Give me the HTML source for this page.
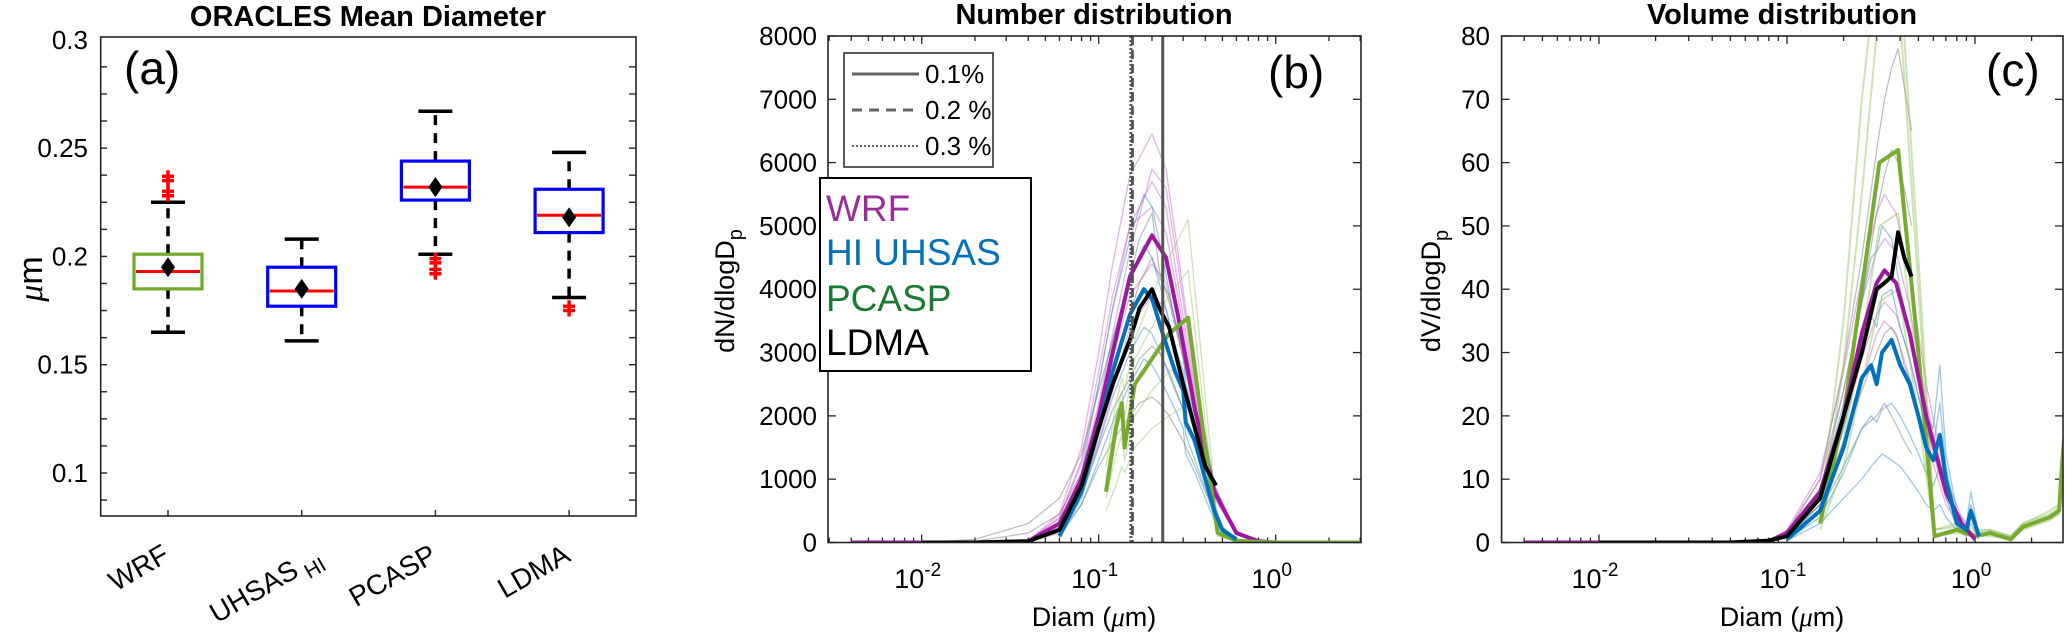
<!DOCTYPE html>
<html><head><meta charset="utf-8"><title>ORACLES size distributions</title>
<style>
html,body{margin:0;padding:0;background:#fff;}
svg{display:block;font-family:"Liberation Sans",Arial,sans-serif;}
</style></head>
<body>
<svg id="fig" width="2067" height="635" viewBox="0 0 2067 635" xmlns="http://www.w3.org/2000/svg">
<defs>
<clipPath id="clipB"><rect x="828" y="36" width="533" height="506.5"/></clipPath>
<clipPath id="clipC"><rect x="1501.6" y="36" width="561.4" height="506.5"/></clipPath>
</defs>
<g>
<text x="368" y="26" font-size="29" font-weight="bold" text-anchor="middle">ORACLES Mean Diameter</text>
<text x="42" y="279" font-size="34" text-anchor="middle" transform="rotate(-90 42 279)"><tspan font-family="Liberation Serif" font-style="italic">μ</tspan>m</text>
<text x="124" y="84" font-size="46">(a)</text>
<g id="aAxis"></g>
<g id="aMarks"></g>
<rect x="100.7" y="37" width="535.3" height="479" fill="none" stroke="#262626" stroke-width="1.6"/>
</g>
<g>
<text x="1094" y="24" font-size="29" font-weight="bold" text-anchor="middle">Number distribution</text>
<text x="734" y="291" font-size="27" text-anchor="middle" transform="rotate(-90 734 291)">dN/dlogD<tspan font-size="20" dy="8">p</tspan></text>
<text x="1094" y="626" font-size="27" text-anchor="middle">Diam (<tspan font-family="Liberation Serif" font-style="italic">μ</tspan>m)</text>
<text x="1268" y="88" font-size="46">(b)</text>
<g id="bAxis"></g>
<g id="bMarks" clip-path="url(#clipB)"></g>
<rect x="828" y="36" width="533" height="506.5" fill="none" stroke="#262626" stroke-width="1.6"/>
<g>
<rect x="844" y="53" width="149" height="114" fill="#fff" stroke="#262626" stroke-width="1.5"/>
<line x1="852" y1="74" x2="919" y2="74" stroke="#666" stroke-width="3"/>
<text x="925" y="83" font-size="26">0.1%</text>
<line x1="852" y1="110" x2="919" y2="110" stroke="#666" stroke-width="3" stroke-dasharray="10,7"/>
<text x="925" y="119" font-size="26">0.2 %</text>
<line x1="852" y1="146" x2="919" y2="146" stroke="#666" stroke-width="2" stroke-dasharray="2,2"/>
<text x="925" y="155" font-size="26">0.3 %</text>
</g>
<g>
<rect x="820" y="178" width="211" height="193" fill="#fff" stroke="#000" stroke-width="2"/>
<text x="826" y="221" font-size="37" fill="#9B2C9B">WRF</text>
<text x="826" y="265" font-size="37" fill="#0072BD">HI UHSAS</text>
<text x="826" y="311" font-size="37" fill="#1A7A30">PCASP</text>
<text x="826" y="355" font-size="37" fill="#000">LDMA</text>
</g>
</g>
<g>
<text x="1782" y="24" font-size="29" font-weight="bold" text-anchor="middle">Volume distribution</text>
<text x="1440" y="291" font-size="27" text-anchor="middle" transform="rotate(-90 1440 291)">dV/dlogD<tspan font-size="20" dy="8">p</tspan></text>
<text x="1782" y="626" font-size="27" text-anchor="middle">Diam (<tspan font-family="Liberation Serif" font-style="italic">μ</tspan>m)</text>
<text x="1986" y="86" font-size="46">(c)</text>
<g id="cAxis"></g>
<g id="cMarks" clip-path="url(#clipC)"></g>
<rect x="1501.6" y="36" width="561.4" height="506.5" fill="none" stroke="#262626" stroke-width="1.6"/>
</g>
</svg>
<script>
// ---------- Panel A data ----------
const aCats = ['WRF', 'UHSAS', 'PCASP', 'LDMA'];
const aLow = [0.165, 0.161, 0.201, 0.181];
const aQ1 = [0.185, 0.177, 0.226, 0.211];
const aMed = [0.193, 0.184, 0.232, 0.219];
const aQ3 = [0.201, 0.195, 0.244, 0.231];
const aHigh = [0.225, 0.208, 0.267, 0.248];
const aMean = [0.195, 0.185, 0.232, 0.218];
const aOutliers = [[0.228, 0.230, 0.235, 0.237], [], [0.192, 0.194, 0.197, 0.199], [0.175, 0.177]];
const aTicks = [0.1, 0.15, 0.2, 0.25, 0.3];
const aTickLabels = ['0.1', '0.15', '0.2', '0.25', '0.3'];

// ---------- Panel B data (number distribution) ----------
const dWRF = [0.004, 0.01, 0.02, 0.04, 0.06, 0.08, 0.1, 0.12, 0.15, 0.2, 0.24, 0.28, 0.35, 0.45, 0.6, 0.8, 1.0];
const nWRF = [0, 0, 0, 20, 300, 1000, 2000, 3000, 4200, 4850, 4500, 3600, 2100, 800, 150, 20, 0];
const nWRFa = [0, 0, 0, 30, 450, 1500, 3000, 4400, 5800, 6450, 5900, 4600, 2600, 900, 150, 20, 0];
const nWRFb = [0, 0, 0, 25, 380, 1250, 2500, 3700, 5000, 5700, 5300, 4100, 2400, 900, 150, 20, 0];
const nWRFc = [0, 0, 0, 15, 250, 800, 1600, 2400, 3400, 3900, 3700, 2900, 1800, 700, 130, 20, 0];
const nWRFd = [0, 0, 0, 25, 400, 1300, 2700, 3900, 5000, 5300, 4900, 3900, 2300, 850, 150, 20, 0];
const nWRFe = [0, 0, 0, 20, 330, 1100, 2200, 3300, 4600, 5900, 5600, 4400, 2500, 900, 150, 20, 0];
const nWRFf = [0, 0, 0, 18, 280, 900, 1900, 2900, 3900, 4400, 4100, 3300, 2000, 750, 140, 20, 0];
const dUH = [0.06, 0.08, 0.1, 0.12, 0.15, 0.18, 0.2, 0.23, 0.27, 0.3, 0.31, 0.35, 0.4, 0.45, 0.5, 0.6];
const nUH = [100, 800, 1800, 2700, 3600, 4000, 3850, 3300, 2700, 2400, 1900, 1600, 1000, 500, 200, 50];
const nUHa = [150, 1100, 2500, 3700, 4800, 5500, 5300, 4500, 3500, 3000, 2500, 2000, 1200, 600, 250, 50];
const nUHb = [80, 600, 1300, 1900, 2500, 2900, 2800, 2500, 2100, 1800, 1400, 1100, 700, 350, 150, 30];
const nUHc = [120, 950, 2100, 3200, 4200, 4700, 4500, 3900, 3100, 2700, 2200, 1800, 1100, 550, 220, 40];
const nUHd = [90, 700, 1550, 2300, 3000, 3400, 3300, 2900, 2400, 2100, 1700, 1300, 850, 400, 170, 35];
const dLD = [0.01, 0.02, 0.04, 0.06, 0.08, 0.1, 0.12, 0.15, 0.17, 0.2, 0.22, 0.25, 0.3, 0.35, 0.4, 0.46];
const nLD = [0, 0, 20, 200, 900, 1800, 2500, 3200, 3700, 4000, 3700, 3400, 2500, 1800, 1200, 900];
const nLDa = [0, 50, 300, 700, 1400, 2400, 3200, 4200, 4800, 5200, 4300, 3800, 2900, 2000, 1300, 800];
const nLDb = [0, 0, 10, 150, 600, 1200, 1600, 2000, 2200, 2300, 2200, 2000, 1600, 1200, 800, 500];
const nLDc = [0, 20, 150, 450, 1100, 2000, 2800, 3600, 4100, 4500, 4200, 3900, 3000, 2100, 1400, 900];
const nLDd = [0, 0, 15, 180, 750, 1500, 2100, 2600, 2900, 3100, 3000, 2700, 2100, 1500, 1000, 700];
const dPC = [0.11, 0.125, 0.135, 0.14, 0.16, 0.2, 0.25, 0.32, 0.4, 0.47, 0.6, 0.8, 1.0, 1.5, 2.0, 3.0];
const nPC = [800, 1800, 2200, 1500, 2500, 2900, 3300, 3550, 1500, 150, 30, 10, 0, 0, 0, 0];
const nPCa = [1200, 2200, 2600, 2400, 3200, 3900, 4500, 5100, 2300, 300, 40, 10, 0, 0, 0, 0];
const nPCb = [500, 900, 1200, 1100, 1500, 1800, 2000, 2200, 1100, 100, 20, 5, 0, 0, 0, 0];
const nPCc = [1000, 2000, 2400, 2000, 2900, 3400, 3900, 4300, 1900, 200, 30, 10, 0, 0, 0, 0];
const nPCd = [700, 1400, 1700, 1300, 2000, 2400, 2700, 2900, 1300, 120, 25, 5, 0, 0, 0, 0];
const bXTicks = [0.01, 0.1, 1];
const bXTickExp = ['-2', '-1', '0'];
const bYTicks = [0, 1000, 2000, 3000, 4000, 5000, 6000, 7000, 8000];
const bVLines = [0.23, 0.155, 0.152];

// ---------- Panel C data (volume distribution) ----------
const dVWRF = [0.004, 0.01, 0.05, 0.08, 0.1, 0.15, 0.2, 0.25, 0.3, 0.33, 0.38, 0.45, 0.55, 0.7, 0.85, 1.0];
const vWRF = [0, 0, 0, 0.2, 1.5, 8, 20, 33, 41, 43, 41, 33, 20, 8, 3, 0.5];
const vWRFa = [0, 0, 0, 0.3, 2, 11, 27, 42, 52, 55, 52, 42, 25, 10, 4, 0.5];
const vWRFb = [0, 0, 0, 0.2, 1.2, 6, 15, 25, 33, 35, 33, 26, 16, 6, 2, 0.5];
const vWRFc = [0, 0, 0, 0.3, 1.8, 10, 24, 38, 46, 48, 46, 37, 22, 9, 3, 0.5];
const vWRFd = [0, 0, 0, 0.2, 1.4, 7, 18, 29, 36, 38, 36, 29, 18, 7, 2.5, 0.5];
const dVLD = [0.01, 0.05, 0.08, 0.1, 0.15, 0.2, 0.25, 0.3, 0.33, 0.36, 0.39, 0.42, 0.46];
const vLD = [0, 0, 0.3, 1, 7, 20, 30, 40, 41, 42, 49, 45, 42];
const vLDa = [0, 0, 0.4, 1.5, 10, 28, 45, 62, 70, 75, 78, 72, 65];
const vLDb = [0, 0, 0.2, 0.8, 5, 12, 18, 20, 22, 20, 18, 16, 14];
const vLDc = [0, 0, 0.3, 1.2, 8, 24, 38, 52, 58, 62, 60, 56, 50];
const vLDd = [0, 0, 0.2, 0.9, 6, 16, 24, 30, 33, 34, 32, 28, 25];
const dVUH = [0.1, 0.15, 0.2, 0.25, 0.28, 0.3, 0.32, 0.36, 0.4, 0.45, 0.5, 0.55, 0.6, 0.65, 0.7, 0.8, 0.9, 0.95, 1.05];
const vUH = [0.5, 5, 15, 26, 28, 25, 30, 32, 28, 25, 20, 15, 13, 17, 10, 3, 2, 5, 1];
const vUHa = [0.8, 8, 22, 38, 45, 46, 50, 48, 40, 33, 26, 20, 18, 28, 14, 5, 3, 8, 1];
const vUHb = [0.3, 3, 7, 10, 12, 13, 14, 13, 12, 10, 8, 6, 5, 6, 4, 2, 1, 3, 0.5];
const vUHc = [0.6, 6, 18, 32, 36, 34, 39, 40, 34, 29, 23, 18, 15, 22, 12, 4, 2, 6, 1];
const vUHd = [0.4, 4, 11, 18, 20, 19, 21, 22, 20, 17, 14, 11, 9, 12, 7, 2.5, 1.5, 4, 0.8];
const dVPC = [0.15, 0.2, 0.25, 0.31, 0.39, 0.5, 0.61, 0.8, 1.0, 1.2, 1.55, 1.8, 2.5, 2.8, 2.9, 3.05];
const vPC = [3, 20, 40, 60, 62, 30, 1, 2, 1, 1.5, 0.5, 2.5, 4, 5, 12, 20];
const vPCa = [5, 35, 70, 95, 95, 45, 2, 3, 2, 2, 1, 3, 5, 6, 10, 18];
const vPCb = [2, 12, 25, 38, 40, 20, 1, 1.5, 1, 1, 0.5, 2, 3.5, 4.5, 8, 14];
const vPCc = [4, 28, 55, 85, 88, 40, 2, 2.5, 1.5, 2, 1, 3, 4.5, 5.5, 9, 16];
const vPCd = [3, 16, 32, 50, 52, 26, 1, 2, 1, 1.5, 0.8, 2.2, 4, 5, 7, 12];
const cYTicks = [0, 10, 20, 30, 40, 50, 60, 70, 80];

const NS = 'http://www.w3.org/2000/svg';
function mk(tag, attrs, parent) {
  const el = document.createElementNS(NS, tag);
  for (const k in attrs) el.setAttribute(k, attrs[k]);
  parent.appendChild(el);
  return el;
}
const ya = v => 473 - (v - 0.1) * 2166;
const xa = i => 168 + i * 133.7;
const xb = d => 921.7 + (Math.log10(d) + 2) * 177;
const yb = v => 542.5 - v * 0.063313;
const xc = d => 1787 + (Math.log10(d) + 1) * 188;
const yc = v => 542.5 - v * 6.3313;

// ---------- Panel A ----------
const aAxis = document.getElementById('aAxis');
for (let v = 0.0875; v <= 0.3; v += 0.0125) {
  const y = ya(v);
  const t1 = mk('line', {x1: 100.7, x2: 107, y1: y, y2: y, stroke: '#262626', 'stroke-width': 1.4}, aAxis);
  
  
  const t2 = mk('line', {x1: 629, x2: 636, y1: y, y2: y, stroke: '#262626', 'stroke-width': 1.4}, aAxis);
  
  
}
aTicks.forEach((v, i) => {
  const t = mk('text', {x: 88, y: ya(v) + 9, 'font-size': 26, 'text-anchor': 'end'}, aAxis);
  t.textContent = aTickLabels[i];
  
  
});
aCats.forEach((c, i) => {
  const x = xa(i);
  const tk = mk('line', {x1: x, x2: x, y1: 516, y2: 510, stroke: '#262626', 'stroke-width': 1.4}, aAxis);
  
  
  const tx = x + (i === 1 ? 22 : 3), ty = i === 1 ? 562 : 560;
  const lbl = mk('text', {x: tx, y: ty, 'font-size': 28, 'text-anchor': 'end', transform: `rotate(-30 ${tx} ${ty})`}, aAxis);
  if (i === 1) {
    lbl.innerHTML = 'UHSAS<tspan font-size="21" dy="8" dx="6">HI</tspan>';
  } else {
    lbl.textContent = c;
  }
  
  
});
const aMarks = document.getElementById('aMarks');
aCats.forEach((c, i) => {
  const x = xa(i);
  const col = i === 0 ? '#6FA82A' : '#0000FF';
  const w1 = mk('line', {x1: x, x2: x, y1: ya(aQ3[i]), y2: ya(aHigh[i]), stroke: '#000', 'stroke-width': 3.5, 'stroke-dasharray': '10,8'}, aMarks);
  
  
  const w2 = mk('line', {x1: x, x2: x, y1: ya(aQ1[i]), y2: ya(aLow[i]), stroke: '#000', 'stroke-width': 3.5, 'stroke-dasharray': '10,8'}, aMarks);
  
  
  const c1 = mk('line', {x1: x - 17, x2: x + 17, y1: ya(aHigh[i]), y2: ya(aHigh[i]), stroke: '#000', 'stroke-width': 3.5}, aMarks);
  
  
  const c2 = mk('line', {x1: x - 17, x2: x + 17, y1: ya(aLow[i]), y2: ya(aLow[i]), stroke: '#000', 'stroke-width': 3.5}, aMarks);
  
  
  const bx = mk('rect', {x: x - 34, y: ya(aQ3[i]), width: 68, height: ya(aQ1[i]) - ya(aQ3[i]), fill: '#fff', stroke: col, 'stroke-width': 3.2}, aMarks);
  
  
  const md = mk('line', {x1: x - 32, x2: x + 32, y1: ya(aMed[i]), y2: ya(aMed[i]), stroke: '#FF0000', 'stroke-width': 3}, aMarks);
  
  
  const ym = ya(aMean[i]);
  const dm = mk('polygon', {points: `${x},${ym - 10} ${x + 7},${ym} ${x},${ym + 10} ${x - 7},${ym}`, fill: '#000'}, aMarks);
  
  
  aOutliers[i].forEach(v => {
    const yo = ya(v);
    const o = mk('path', {d: `M${x - 6},${yo}H${x + 6}M${x},${yo - 6}V${yo + 6}`, stroke: '#FF0000', 'stroke-width': 3.5}, aMarks);
    
    
  });
});

function logAxis(g, xf, left, right, yTicks, yf, yTickFmt, labelX, name) {
  for (let e = -3; e <= 0; e++) {
    for (let m = 1; m <= 9; m++) {
      const d = m * Math.pow(10, e);
      const x = xf(d);
      if (x < left || x > right) continue;
      const len = m === 1 ? 8 : 5;
      const t1 = mk('line', {x1: x, x2: x, y1: 542.5, y2: 542.5 - len, stroke: '#262626', 'stroke-width': 1.3}, g);
      
      
      const t2 = mk('line', {x1: x, x2: x, y1: 36, y2: 36 + len, stroke: '#262626', 'stroke-width': 1.3}, g);
      
      
    }
  }
  bXTicks.forEach((d, i) => {
    const t = mk('text', {x: xf(d) - 4, y: 588, 'font-size': 27, 'text-anchor': 'middle'}, g);
    t.innerHTML = '10<tspan font-size="19" dy="-12">' + bXTickExp[i] + '</tspan>';
    
    
  });
  yTicks.forEach(v => {
    const y = yf(v);
    const t1 = mk('line', {x1: left, x2: left + 8, y1: y, y2: y, stroke: '#262626', 'stroke-width': 1.3}, g);
    
    
    const t2 = mk('line', {x1: right - 8, x2: right, y1: y, y2: y, stroke: '#262626', 'stroke-width': 1.3}, g);
    
    
    const tl = mk('text', {x: labelX, y: y + 9, 'font-size': 26, 'text-anchor': 'end'}, g);
    tl.textContent = yTickFmt(v);
    
    
  });
}
function series(g, ds, vs, xf, yf, stroke, w, op, name) {
  const pts = ds.map((d, i) => xf(d).toFixed(1) + ',' + yf(vs[i]).toFixed(1)).join(' ');
  const p = mk('polyline', {points: pts, fill: 'none', stroke: stroke, 'stroke-width': w, 'stroke-opacity': op, 'stroke-linejoin': 'round'}, g);
  
  
  return p;
}

// ---------- Panel B ----------
logAxis(document.getElementById('bAxis'), xb, 828, 1361, bYTicks, yb, v => String(v), 817, 'panel-b');
const bM = document.getElementById('bMarks');
[nWRFa, nWRFb, nWRFc, nWRFd, nWRFe, nWRFf].forEach(v => series(bM, dWRF, v, xb, yb, '#C040C0', 1.3, 0.4, 'wrf-number-member'));
[nUHa, nUHb, nUHc, nUHd].forEach(v => series(bM, dUH, v, xb, yb, '#3A90D0', 1.3, 0.5, 'uhsas-number-member'));
[nLDa, nLDb, nLDc, nLDd].forEach(v => series(bM, dLD, v, xb, yb, '#777', 1.2, 0.5, 'ldma-number-member'));
[nPCa, nPCb, nPCc, nPCd].forEach(v => series(bM, dPC, v, xb, yb, '#90C060', 1.3, 0.45, 'pcasp-number-member'));
series(bM, dWRF, nWRF, xb, yb, '#A0189F', 4, 1, 'wrf-number-mean');
series(bM, dPC, nPC, xb, yb, '#77AC30', 4, 1, 'pcasp-number-mean');
series(bM, dUH, nUH, xb, yb, '#0072BD', 4, 1, 'uhsas-number-mean');
series(bM, dLD, nLD, xb, yb, '#000', 4, 1, 'ldma-number-mean');
const vStyles = [['none', 3], ['9,5', 3], ['2,2', 3]];
bVLines.forEach((d, i) => {
  const l = mk('line', {x1: xb(d), x2: xb(d), y1: 36, y2: 542.5, stroke: '#555', 'stroke-width': vStyles[i][1], 'stroke-dasharray': vStyles[i][0]}, bM);
  
  
});

// ---------- Panel C ----------
logAxis(document.getElementById('cAxis'), xc, 1501.6, 2063, cYTicks, yc, v => String(v), 1490, 'panel-c');
const cM = document.getElementById('cMarks');
[vWRFa, vWRFb, vWRFc, vWRFd].forEach(v => series(cM, dVWRF, v, xc, yc, '#C040C0', 1.3, 0.4, 'wrf-volume-member'));
[vLDa, vLDb, vLDc, vLDd].forEach(v => series(cM, dVLD, v, xc, yc, '#777', 1.2, 0.5, 'ldma-volume-member'));
[vUHa, vUHb, vUHc, vUHd].forEach(v => series(cM, dVUH, v, xc, yc, '#3A90D0', 1.3, 0.5, 'uhsas-volume-member'));
[vPCa, vPCb, vPCc, vPCd].forEach(v => series(cM, dVPC, v, xc, yc, '#90C060', 2, 0.45, 'pcasp-volume-member'));
series(cM, dVPC, vPC, xc, yc, '#77AC30', 4, 1, 'pcasp-volume-mean');
series(cM, dVWRF, vWRF, xc, yc, '#A0189F', 4, 1, 'wrf-volume-mean');
series(cM, dVUH, vUH, xc, yc, '#0072BD', 4, 1, 'uhsas-volume-mean');
series(cM, dVLD, vLD, xc, yc, '#000', 4, 1, 'ldma-volume-mean');
</script>
</body></html>
